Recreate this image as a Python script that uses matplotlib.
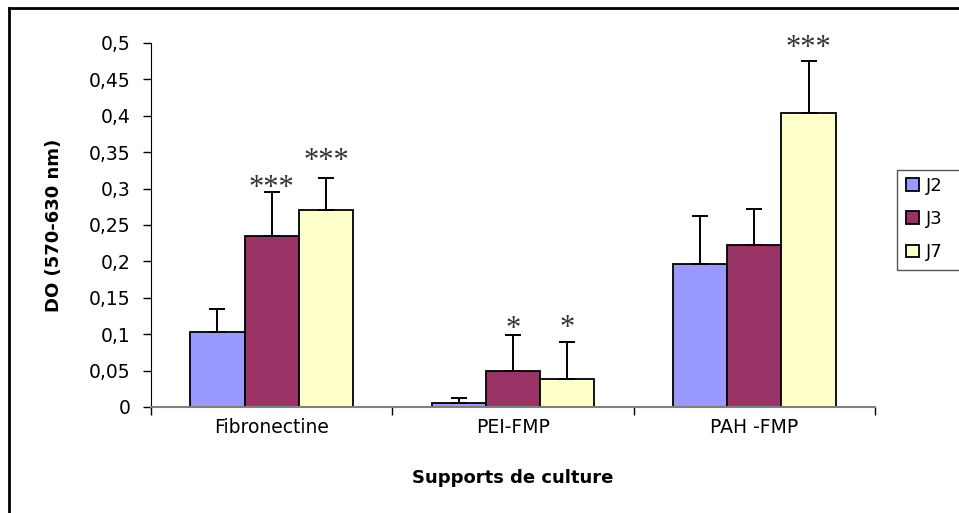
import matplotlib.pyplot as plt
from matplotlib.lines import Line2D
from matplotlib.patches import Rectangle
from matplotlib.ticker import FuncFormatter, FixedLocator
import numpy as np

plt.rcParams['font.family'] = ['DejaVu Sans']

# données
supports = ['Fibronectine', 'PEI-FMP', 'PAH -FMP']
jours = ['J2', 'J3', 'J7']
do_moy = {
    'J2': [0.103, 0.005, 0.196],
    'J3': [0.235, 0.049, 0.223],
    'J7': [0.270, 0.038, 0.404],
}
do_err = {
    'J2': [0.031, 0.007, 0.066],
    'J3': [0.060, 0.050, 0.049],
    'J7': [0.044, 0.051, 0.071],
}
# étoiles de significativité : (support, jour, texte, hauteur)
etoiles = [
    (0, 'J3', '***', 0.300),
    (0, 'J7', '***', 0.337),
    (1, 'J3', '*', 0.106),
    (1, 'J7', '*', 0.108),
    (2, 'J7', '***', 0.493),
]
couleurs = {'J2': '#9999FF', 'J3': '#993366', 'J7': '#FFFFCC'}

fig = plt.figure(figsize=(9.59, 5.13), dpi=100)
ax = fig.add_axes([151 / 959, 1 - 407 / 513, (875 - 151) / 959, (407 - 43) / 513])

x = np.arange(len(supports))
w = 0.225
for i, j in enumerate(jours):
    pos = x + (i - 1) * w
    ax.bar(pos, do_moy[j], w, color=couleurs[j], edgecolor='black',
           linewidth=1.3, label=j, zorder=2)
    ax.errorbar(pos, do_moy[j], yerr=[np.zeros(len(supports)), do_err[j]],
                fmt='none', ecolor='black', elinewidth=1.4, capsize=5.5,
                capthick=1.4, zorder=3)

for k, j, txt, h in etoiles:
    xs = x[k] + (jours.index(j) - 1) * w
    ax.text(xs, h, txt, ha='center', va='center', fontsize=22,
            family='Liberation Serif', color='#333333')

ax.set_xlim(-0.5, 2.5)
ax.set_ylim(0, 0.5)
ax.set_yticks(np.arange(0, 0.501, 0.05))
ax.yaxis.set_major_formatter(FuncFormatter(lambda v, p: ('%g' % round(v, 2)).replace('.', ',')))
ax.xaxis.set_major_locator(FixedLocator([-0.5, 0.5, 1.5, 2.5]))
ax.xaxis.set_minor_locator(FixedLocator(x))
ax.set_xticklabels([], minor=False)
ax.set_xticklabels(supports, minor=True)
ax.tick_params(axis='x', which='major', length=6, width=1, color='black')
ax.tick_params(axis='x', which='minor', length=0, labelsize=13.5, pad=8)
ax.tick_params(axis='y', length=6, width=1, labelsize=13.5, pad=9)

for s in ['top', 'right']:
    ax.spines[s].set_visible(False)
ax.spines['left'].set_color('black')
ax.spines['bottom'].set_color('#808080')
ax.spines['bottom'].set_linewidth(1.5)

ax.set_xlabel('Supports de culture', fontsize=13, fontweight='bold', labelpad=23)
ax.set_ylabel('DO (570-630 nm)', fontsize=13, fontweight='bold', labelpad=18)

leg = ax.legend(loc='center left', bbox_to_anchor=(897 / 959, 1 - 219 / 513),
                bbox_transform=fig.transFigure, fontsize=13, frameon=False,
                handlelength=0.7, handleheight=0.7, labelspacing=0.85,
                borderpad=0.5, handletextpad=0.4, borderaxespad=0)

# cadre de la légende (coupé à droite comme dans l'original)
fig.add_artist(Rectangle((897 / 959, 1 - 270 / 513), 80 / 959, 100 / 513,
                         transform=fig.transFigure, fill=False,
                         edgecolor='#555555', lw=1.0))

# cadre du graphique
fig.add_artist(Line2D([9 / 959, 9 / 959], [0, 1 - 8 / 513], color='black', lw=2,
                      transform=fig.transFigure))
fig.add_artist(Line2D([9 / 959, 1], [1 - 8 / 513, 1 - 8 / 513], color='black', lw=2,
                      transform=fig.transFigure))

fig.savefig('out.png', dpi=100)
